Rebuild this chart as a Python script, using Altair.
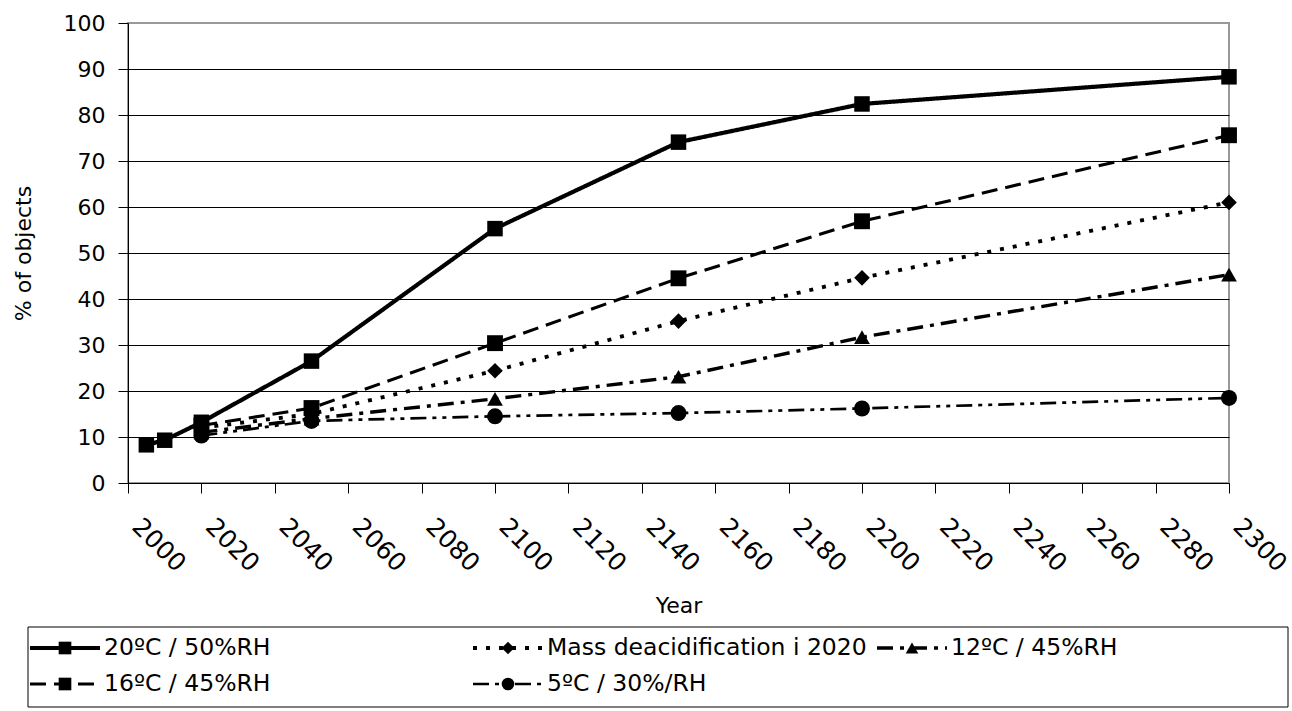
import altair as alt
import pandas as pd

# Evaluation years for each storage scenario
years_20c = [2005, 2010, 2020, 2050, 2100, 2150, 2200, 2300]
years_other = [2020, 2050, 2100, 2150, 2200, 2300]

# Share of objects (%) for each scenario
pct_20c_50rh = [8.3, 9.3, 13.2, 26.5, 55.3, 74.1, 82.4, 88.3]
pct_mass_deacid = [12.0, 15.0, 24.4, 35.2, 44.6, 61.0]
pct_12c_45rh = [11.0, 14.0, 18.3, 23.1, 31.7, 45.3]
pct_16c_45rh = [12.5, 16.3, 30.4, 44.5, 56.9, 75.6]
pct_5c_30rh = [10.3, 13.5, 14.5, 15.2, 16.2, 18.5]

series_names = [
    "20ºC / 50%RH",
    "Mass deacidification i 2020",
    "12ºC / 45%RH",
    "16ºC / 45%RH",
    "5ºC / 30%/RH",
]
series_years = [years_20c, years_other, years_other, years_other, years_other]
series_values = [pct_20c_50rh, pct_mass_deacid, pct_12c_45rh, pct_16c_45rh, pct_5c_30rh]

# Line and marker styling per series
line_dashes = [[1, 0], [4, 9], [16, 7, 4, 7], [16, 8], [16, 6, 4, 6, 4, 6]]
line_widths = [4.2, 2.7, 2.7, 2.7, 2.7]
marker_shapes = ["square", "diamond", "triangle-up", "square", "circle"]
marker_sizes = [240, 256, 256, 240, 240]

FONT = "DejaVu Sans"
FS = 22

rows = []
for name, ys, vs in zip(series_names, series_years, series_values):
    for yr, v in zip(ys, vs):
        rows.append({"series": name, "year": yr, "pct": v})
data = pd.DataFrame(rows)

dash_scale = alt.Scale(domain=series_names, range=line_dashes)
width_scale = alt.Scale(domain=series_names, range=line_widths)
shape_scale = alt.Scale(domain=series_names, range=marker_shapes)
size_scale = alt.Scale(domain=series_names, range=marker_sizes)

x_enc = alt.X(
    "year:Q",
    scale=alt.Scale(domain=[2000, 2300], nice=False, zero=False),
    axis=alt.Axis(
        values=list(range(2000, 2301, 20)),
        format="d",
        title="Year",
        labelAngle=45,
        labelAlign="left",
        labelBaseline="middle",
        labelFontSize=25,
        labelPadding=29,
        labelOffset=8,
        labelOverlap=False,
        labelFlush=False,
        tickSize=10,
        tickColor="black",
        domainColor="black",
        grid=False,
        titlePadding=19,
    ),
)
y_enc = alt.Y(
    "pct:Q",
    scale=alt.Scale(domain=[0, 100], nice=False),
    axis=alt.Axis(
        values=list(range(0, 101, 10)),
        title="% of objects",
        tickSize=10,
        tickColor="black",
        domainColor="black",
        labelPadding=13,
        titlePadding=28,
        grid=True,
        gridColor={"condition": {"test": "datum.value >= 100", "value": "#999999"}, "value": "black"},
        gridWidth=1,
    ),
)

lines = alt.Chart(data).mark_line().encode(
    x=x_enc,
    y=y_enc,
    detail="series:N",
    strokeDash=alt.StrokeDash("series:N", scale=dash_scale, legend=None),
    strokeWidth=alt.StrokeWidth("series:N", scale=width_scale, legend=None),
    color=alt.value("black"),
)
points = alt.Chart(data).mark_point(filled=True, opacity=1).encode(
    x="year:Q",
    y="pct:Q",
    shape=alt.Shape("series:N", scale=shape_scale, legend=None),
    size=alt.Size("series:N", scale=size_scale, legend=None),
    color=alt.value("black"),
)
main = alt.layer(lines, points)

# Legend box below the plot, laid out in its own pixel-like units
LEGEND_W, LEGEND_H = 1260, 80
legend_cols = [0, 1, 2, 0, 1]
legend_rows = [0, 0, 0, 1, 1]
col_left = [2, 445, 849]
row_mid = [21, 57]
SYMBOL_LEN = 70

legend_df = pd.DataFrame({
    "series": series_names,
    "x0": [col_left[c] for c in legend_cols],
    "y": [row_mid[r] for r in legend_rows],
})
legend_df["x1"] = legend_df["x0"] + SYMBOL_LEN
legend_df["xm"] = legend_df["x0"] + SYMBOL_LEN / 2
legend_df["xt"] = legend_df["x1"] + 4

box_df = pd.DataFrame({"x0": [0], "x1": [LEGEND_W], "y0": [0], "y1": [LEGEND_H]})

lx = alt.Scale(domain=[0, LEGEND_W], range=[-100, 1160])
ly = alt.Scale(domain=[0, LEGEND_H], range=[604, 684])

box = alt.Chart(box_df).mark_rect(fill="white", stroke="black", strokeWidth=1).encode(
    x=alt.X("x0:Q", scale=lx, axis=None),
    x2="x1:Q",
    y=alt.Y("y0:Q", scale=ly, axis=None),
    y2="y1:Q",
)
key_lines = alt.Chart(legend_df).mark_rule(color="black").encode(
    x=alt.X("x0:Q", scale=lx, axis=None),
    x2="x1:Q",
    y=alt.Y("y:Q", scale=ly, axis=None),
    strokeDash=alt.StrokeDash("series:N", scale=dash_scale, legend=None),
    strokeWidth=alt.StrokeWidth("series:N", scale=width_scale, legend=None),
)
key_marks = alt.Chart(legend_df).mark_point(filled=True, opacity=1, color="black").encode(
    x=alt.X("xm:Q", scale=lx, axis=None),
    y=alt.Y("y:Q", scale=ly, axis=None),
    shape=alt.Shape("series:N", scale=shape_scale, legend=None),
    size=alt.value(160),
)
key_text = alt.Chart(legend_df).mark_text(
    align="left", baseline="middle", fontSize=23.5, font=FONT, color="black"
).encode(
    x=alt.X("xt:Q", scale=lx, axis=None),
    y=alt.Y("y:Q", scale=ly, axis=None),
    text="series:N",
)
legend_layer = alt.layer(box, key_lines, key_marks, key_text)

chart = (
    alt.layer(main, legend_layer)
    .resolve_scale(x="independent", y="independent")
    .properties(
        width=1101,
        height=460,
        autosize=alt.AutoSizeParams(type="none"),
        padding={"left": 128, "top": 23, "right": 63, "bottom": 228},
        background="white",
    )
    .configure_view(stroke="#999999", strokeWidth=2)
    .configure_axis(
        labelFont=FONT,
        titleFont=FONT,
        labelFontSize=FS,
        titleFontSize=FS,
        titleFontWeight="normal",
        labelColor="black",
        titleColor="black",
    )
)

chart.save("out.html", embed_options={"renderer": "svg", "actions": False})
